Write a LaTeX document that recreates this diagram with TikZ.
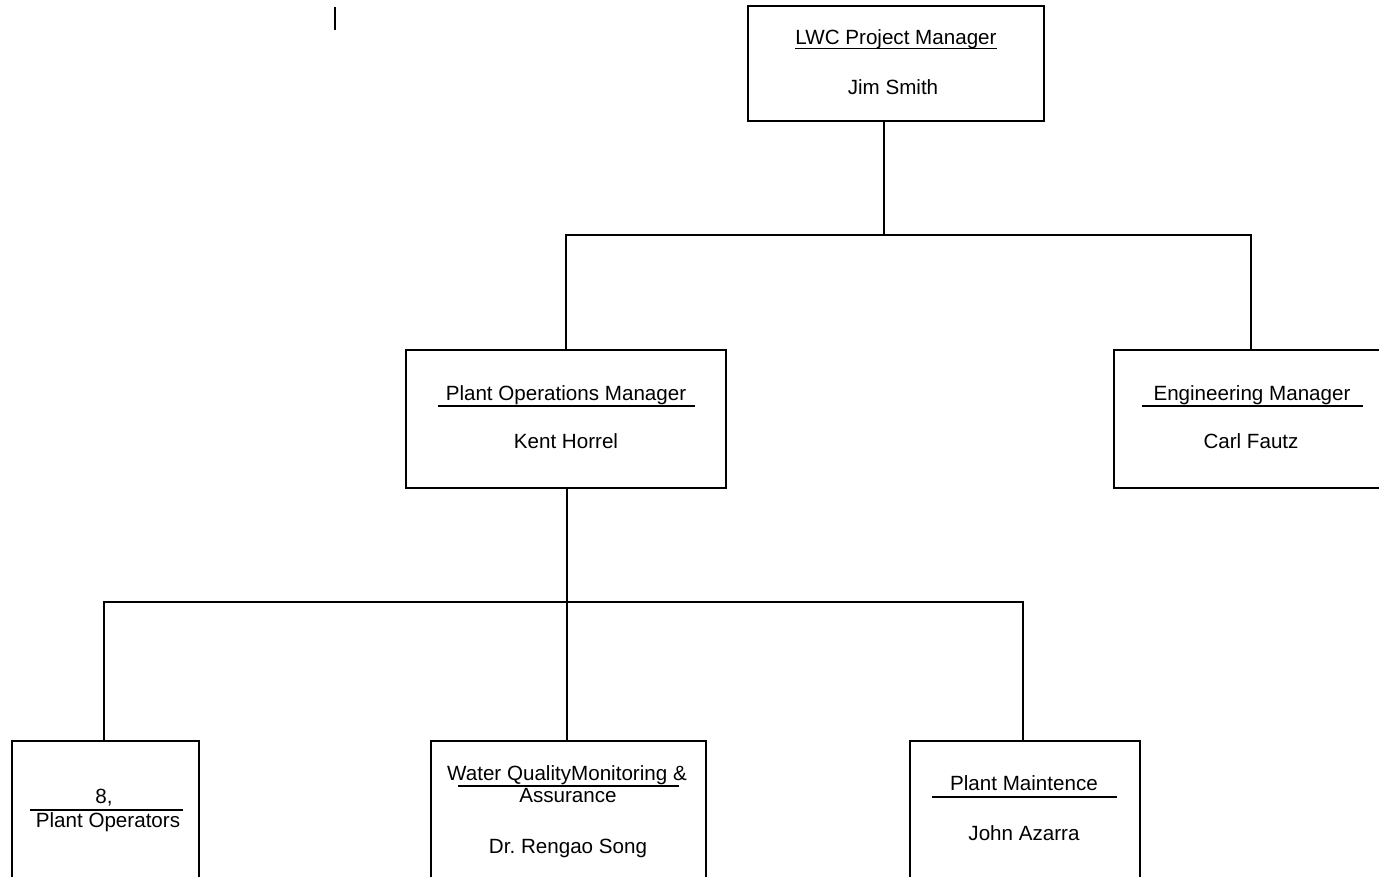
\documentclass[tikz,border=0pt]{standalone}
\usepackage{fontspec}
\usetikzlibrary{calc}
\setmainfont{Liberation Sans}
\frenchspacing
\begin{document}
\begin{tikzpicture}[x=1pt,y=-1pt,
  box/.style={draw, line width=1.6pt, rectangle, inner sep=0pt},
  lbl/.style={anchor=base, inner sep=0pt, font=\fontsize{20.6}{24}\selectfont},
  link/.style={line width=1.6pt},
  rule/.style={line width=1.4pt}]
\useasboundingbox (0,0) rectangle (1379,877);
\clip (0,0) rectangle (1379,877);

% boxes
\node[box, minimum width=296pt, minimum height=115pt] (pm) at (896,63.5) {};
\node[box, minimum width=320pt, minimum height=138pt] (ops) at (566,419) {};
\node[box, minimum width=276pt, minimum height=138pt] (eng) at (1252,419) {};
\node[box, minimum width=187pt, minimum height=154pt] (opr) at (105.5,818) {};
\node[box, minimum width=275pt, minimum height=154pt] (wq) at (568.5,818) {};
\node[box, minimum width=230pt, minimum height=154pt] (mnt) at (1025,818) {};

% labels
\node[lbl] (pmT) at (896,45) {LWC Project Manager};
\draw[rule] ($(pmT.base west)+(0,3.5)$) -- ($(pmT.base east)+(0,3.5)$);
\node[lbl] (pmN) at (893,95) {Jim Smith};

\node[lbl] (opsT) at (566,400) {Plant Operations Manager};
\draw[rule] (438,406) -- (695,406);
\node[lbl] (opsN) at (566,448) {Kent Horrel};

\node[lbl] (engT) at (1252,400) {Engineering Manager};
\draw[rule] (1142,406) -- (1363,406);
\node[lbl] (engN) at (1251,448) {Carl Fautz};

\node[lbl] (oprT) at (104,803) {8,};
\draw[rule] (30,810) -- (183,810);
\node[lbl] (oprN) at (108,827) {Plant Operators};

\node[lbl] (wqT) at (567,780) {Water QualityMonitoring \&};
\draw[rule] (458,786) -- (679,786);
\node[lbl] (wqT2) at (568,802) {Assurance};
\node[lbl] (wqN) at (568,853) {Dr.\ Rengao Song};

\node[lbl] (mntT) at (1024,790) {Plant Maintence};
\draw[rule] (932,797) -- (1117,797);
\node[lbl] (mntN) at (1024,840) {John Azarra};

% junctions
\coordinate (j1) at (884,235);
\coordinate (j2) at (567,602);

% connectors
\draw[link] (pm.south -| j1) -- (j1);
\draw[link] (ops.north) |- (j1) -| (eng.north -| 1251,0);
\draw[link] (ops.south -| j2) -- (j2);
\draw[link] (opr.north -| 104,0) |- (j2) -| (mnt.north -| 1023,0);
\draw[link] (j2) -- (wq.north -| j2);

% stray mark
\draw[line width=2pt] (335,7) -- (335,30);
\end{tikzpicture}
\end{document}
